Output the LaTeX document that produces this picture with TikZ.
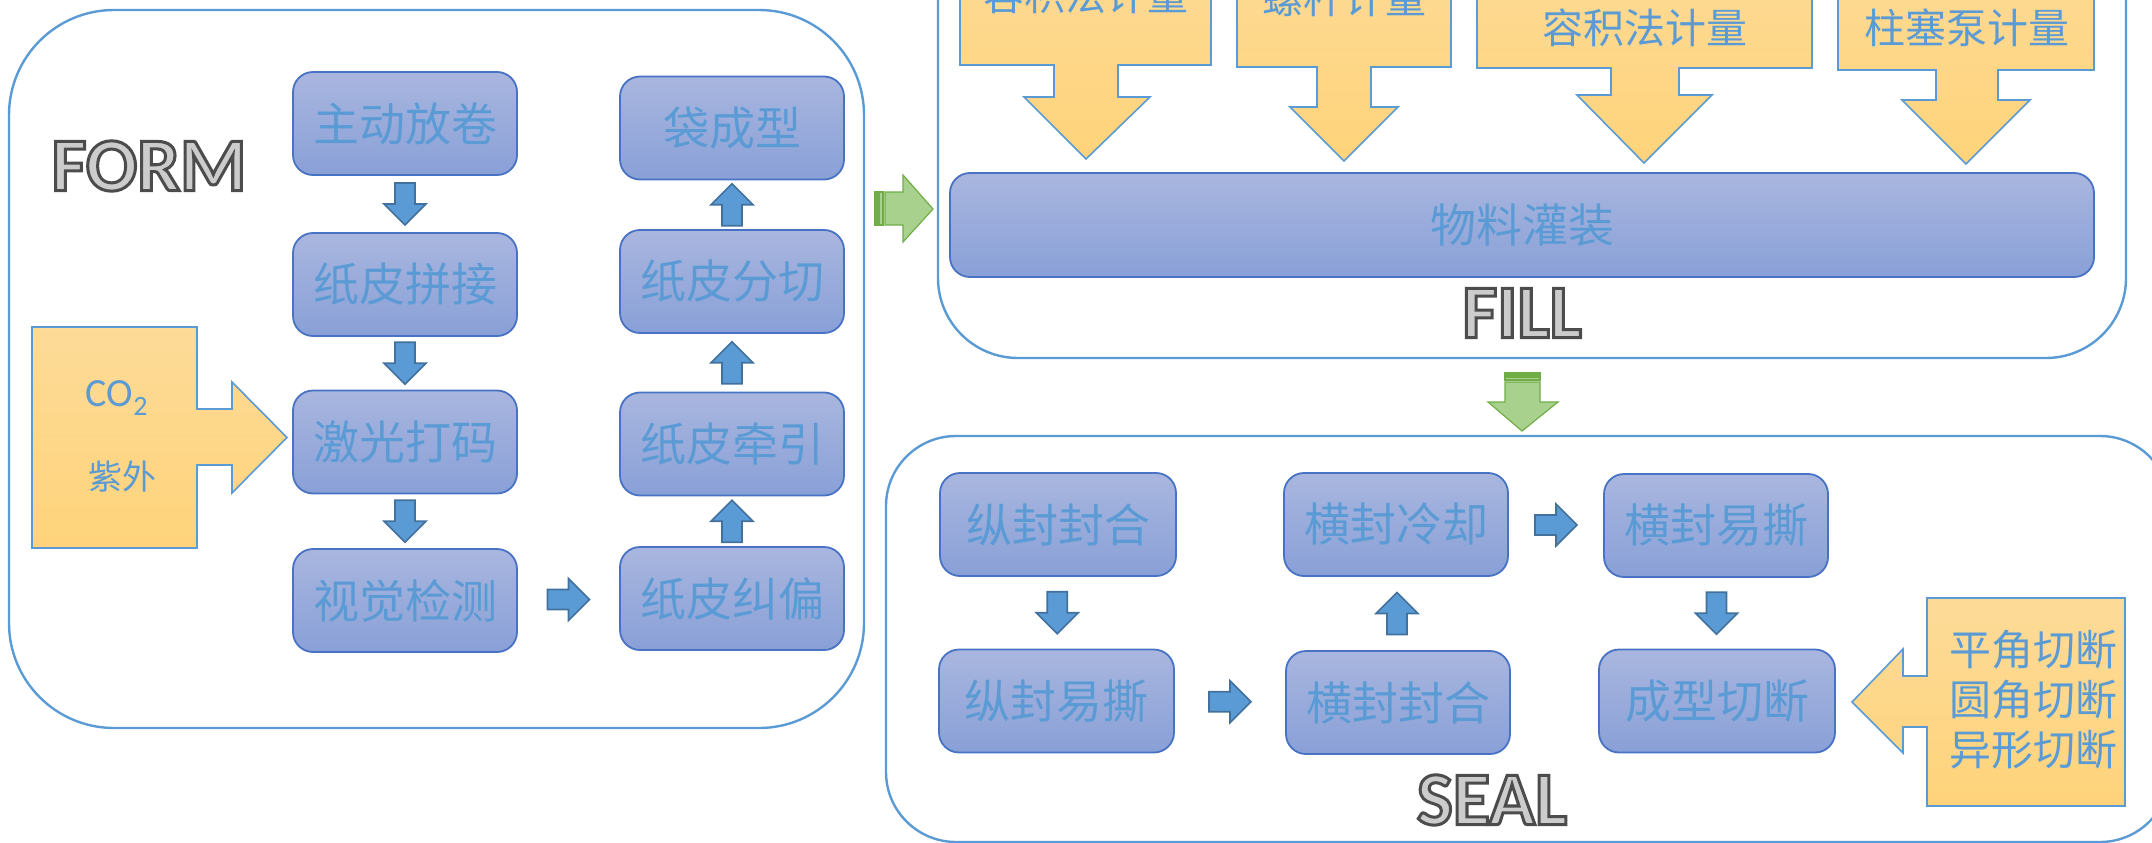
\documentclass[tikz,border=0pt]{standalone}
\usepackage{fontspec}
\usetikzlibrary{calc}
\newfontfamily\cjk{Noto Sans CJK SC}
\newfontfamily\carl{Carlito}
\newfontfamily\stagefont{Carlito}[BoldFeatures={FakeBold=4}]

\definecolor{lineblue}{RGB}{91,155,213}
\definecolor{boxline}{RGB}{72,114,196}
\definecolor{boxtop}{RGB}{169,182,223}
\definecolor{boxbot}{RGB}{137,160,215}
\definecolor{txtblue}{RGB}{91,155,213}
\definecolor{arrfill}{RGB}{91,155,213}
\definecolor{arrline}{RGB}{65,113,156}
\definecolor{goldtop}{RGB}{253,219,152}
\definecolor{goldbot}{RGB}{254,211,122}
\definecolor{greenfill}{RGB}{169,209,142}
\definecolor{greenline}{RGB}{112,173,71}

% light fill, dark outline (fill colour, stroke colour)
\newcommand{\stagetext}[1]{\special{pdf:bc [0.8] [0.3]}#1\special{pdf:ec}}

\tikzset{
  panel/.style={draw=lineblue, line width=2.4pt},
  stepbox/.style={draw=boxline, line width=1.8pt, rounded corners=20pt,
    top color=boxtop, bottom color=boxbot, minimum width=224pt,
    minimum height=103pt, inner sep=0pt, text=txtblue,
    font=\cjk\fontsize{46}{50}\selectfont},
  callout/.style={draw=lineblue, line width=1.6pt, top color=goldtop, bottom color=goldbot},
  calltext/.style={text=txtblue, font=\cjk\fontsize{41}{48}\selectfont},
  stagelabel/.style={font=\stagefont\bfseries\fontsize{76}{80}\selectfont},
  greenarr/.style={draw=greenline, line width=1.2pt, fill=greenfill},
  barrow/.pic={
    \path[draw=arrline, line width=1.6pt, fill=arrfill]
      (-21,-10) -- (0,-10) -- (0,-21) -- (21,0) -- (0,21) -- (0,10) -- (-21,10) -- cycle;
  }
}

\begin{document}
\begin{tikzpicture}[x=1pt, y=-1pt]
    \useasboundingbox (0,0) rectangle (2152,843);
    \clip (0,0) rectangle (2152,843);

    % three stages
    \draw[panel, rounded corners=105pt] (9,10) rectangle (864,728);
    \draw[panel, rounded corners=80pt] (938,-150) rectangle (2126,358);
    \draw[panel, rounded corners=70pt] (886,436) rectangle (2170,842);

    % FORM
    \node[stagelabel] (formlabel) at (149,166) {\stagetext{FORM}};

    \node[stepbox] (unwind) at (405,123.5) {主动放卷};
    \node[stepbox] (splice) at (405,284.5) {纸皮拼接};
    \node[stepbox] (laser)  at (405,442)   {激光打码};
    \node[stepbox] (vision) at (405,600.5) {视觉检测};

    \node[stepbox] (bag)     at (732,128)   {袋成型};
    \node[stepbox] (slit)    at (732,281.5) {纸皮分切};
    \node[stepbox] (pull)    at (732,444)   {纸皮牵引};
    \node[stepbox] (correct) at (732,598.5) {纸皮纠偏};

    \pic[rotate=-90] at ($(unwind.south)!0.5!(splice.north)$) {barrow};
    \pic[rotate=-90] at ($(splice.south)!0.5!(laser.north)$) {barrow};
    \pic[rotate=-90] at ($(laser.south)!0.5!(vision.north)$) {barrow};
    \pic at ($(vision.east)!0.5!(correct.west)$) {barrow};
    \pic[rotate=90] at ($(correct.north)!0.5!(pull.south)$) {barrow};
    \pic[rotate=90] at ($(pull.north)!0.5!(slit.south)$) {barrow};
    \pic[rotate=90] at ($(slit.north)!0.5!(bag.south)$) {barrow};

    % laser sources
    \path[callout] (32,327) -- (197,327) -- (197,409) -- (232,409) -- (232,382)
        -- (287,437.5) -- (232,493) -- (232,465) -- (197,465) -- (197,548) -- (32,548) -- cycle;
    \node[text=txtblue, font=\carl\fontsize{40}{44}\selectfont] (co2) at (117,398) {CO\textsubscript{2}};
    \node[text=txtblue, font=\cjk\fontsize{34}{40}\selectfont] (uv) at (122,477) {紫外};

    % FORM -> FILL
    \path[greenarr] (875,192) rectangle (877,225);
    \path[greenarr] (879,192) rectangle (883,225);
    \path[greenarr] (885,192) -- (903,192) -- (903,175) -- (933,209) -- (903,242)
        -- (903,225) -- (885,225) -- cycle;

    % FILL
    \node[stepbox, minimum width=1144pt, minimum height=104pt] (filling) at (1522,225) {物料灌装};
    \node[stagelabel] (filllabel) at (1522,313) {\stagetext{FILL}};

    % metering
    \path[callout] (960,-60) -- (1211,-60) -- (1211,65) -- (1118,65) -- (1118,97) -- (1150,97)
        -- (1086,159) -- (1024,97) -- (1054,97) -- (1054,65) -- (960,65) -- cycle;
    \node[calltext] (meter1) at (1086,-5) {容积法计量};

    \path[callout] (1237,-60) -- (1451,-60) -- (1451,67) -- (1371,67) -- (1371,107) -- (1398,107)
        -- (1344,161) -- (1290,107) -- (1317,107) -- (1317,67) -- (1237,67) -- cycle;
    \node[calltext] (meter2) at (1344,-2) {螺杆计量};

    \path[callout] (1477,-60) -- (1812,-60) -- (1812,68) -- (1679,68) -- (1679,95) -- (1712,95)
        -- (1644,163) -- (1577,95) -- (1611,95) -- (1611,68) -- (1477,68) -- cycle;
    \node[calltext] (meter3) at (1645,28) {容积法计量};

    \path[callout] (1838,-60) -- (2094,-60) -- (2094,70) -- (1998,70) -- (1998,100) -- (2030,100)
        -- (1966,164) -- (1902,100) -- (1936,100) -- (1936,70) -- (1838,70) -- cycle;
    \node[calltext] (meter4) at (1967,28) {柱塞泵计量};

    % FILL -> SEAL
    \path[greenarr] (1505,373) rectangle (1540,375);
    \path[greenarr] (1505,377) rectangle (1540,380);
    \path[greenarr] (1505,382) -- (1540,382) -- (1540,402) -- (1558,402) -- (1522,431)
        -- (1488,402) -- (1505,402) -- cycle;

    % SEAL
    \node[stepbox, minimum width=236pt] (lseal) at (1058,524.5) {纵封封合};
    \node[stepbox, minimum width=235pt] (ltear) at (1056.5,701) {纵封易撕};
    \node[stepbox] (hseal) at (1398,702.5) {横封封合};
    \node[stepbox] (hcool) at (1396,524.5) {横封冷却};
    \node[stepbox] (htear) at (1716,525.5) {横封易撕};
    \node[stepbox, minimum width=236pt] (cut) at (1717,701) {成型切断};

    \pic[rotate=-90] at ($(lseal.south)!0.5!(ltear.north)$) {barrow};
    \pic at ($(ltear.east)!0.5!(hseal.west)$) {barrow};
    \pic[rotate=90] at ($(hseal.north)!0.5!(hcool.south)$) {barrow};
    \pic at ($(hcool.east)!0.5!(htear.west)$) {barrow};
    \pic[rotate=-90] at ($(htear.south)!0.5!(cut.north)$) {barrow};

    \node[stagelabel] (seallabel) at (1492,800) {\stagetext{SEAL}};

    % cutting shapes
    \path[callout] (2125,598) -- (2125,806) -- (1927,806) -- (1927,727) -- (1903,727) -- (1903,753)
        -- (1852,702) -- (1903,649) -- (1903,676) -- (1927,676) -- (1927,598) -- cycle;
    \node[calltext, font=\cjk\fontsize{42}{48}\selectfont] (flat)  at (2033,650) {平角切断};
    \node[calltext, font=\cjk\fontsize{42}{48}\selectfont] (round) at (2033,700) {圆角切断};
    \node[calltext, font=\cjk\fontsize{42}{48}\selectfont] (odd)   at (2033,750) {异形切断};

\end{tikzpicture}
\end{document}
